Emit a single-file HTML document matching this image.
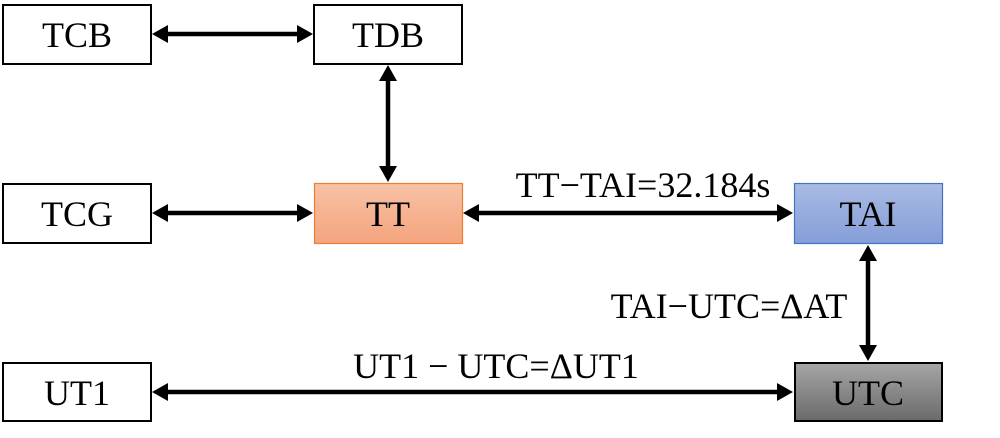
<!DOCTYPE html>
<html><head><meta charset="utf-8"><style>
html,body{margin:0;padding:0;background:#fff;}
</style></head><body>
<svg width="1000" height="438" xmlns="http://www.w3.org/2000/svg" style="display:block">
<defs>
<linearGradient id="go" x1="0" y1="0" x2="0" y2="1"><stop offset="0" stop-color="#f8c2a6"/><stop offset="1" stop-color="#f4a47e"/></linearGradient>
<linearGradient id="gb" x1="0" y1="0" x2="0" y2="1"><stop offset="0" stop-color="#aabbe4"/><stop offset="1" stop-color="#849ed8"/></linearGradient>
<linearGradient id="gg" x1="0" y1="0" x2="0" y2="1"><stop offset="0" stop-color="#a6a6a6"/><stop offset="1" stop-color="#6a6a6a"/></linearGradient>
</defs>
<g style="font-family:'Liberation Serif','Times New Roman',serif" font-size="36" text-anchor="middle">
<rect x="3" y="5" width="148" height="59" fill="#fff" stroke="#000" stroke-width="2"/>
<text x="77" y="47">TCB</text>
<rect x="314" y="5" width="148" height="59" fill="#fff" stroke="#000" stroke-width="2"/>
<text x="388" y="47">TDB</text>
<rect x="3" y="184" width="148" height="59" fill="#fff" stroke="#000" stroke-width="2"/>
<text x="77" y="226">TCG</text>
<rect x="314.5" y="183.5" width="148" height="60" fill="url(#go)" stroke="#ed7d31" stroke-width="1.2"/>
<text x="388" y="226">TT</text>
<rect x="794.5" y="183.5" width="148" height="60" fill="url(#gb)" stroke="#4472c4" stroke-width="1.2"/>
<text x="868" y="226">TAI</text>
<rect x="795" y="363" width="147" height="58" fill="url(#gg)" stroke="#000" stroke-width="2"/>
<text x="868" y="405">UTC</text>
<rect x="3" y="363" width="148" height="58" fill="#fff" stroke="#000" stroke-width="2"/>
<text x="77" y="405">UT1</text>
<text x="643" y="197">TT−TAI=32.184s</text>
<text x="729" y="318">TAI−UTC=ΔAT</text>
<text x="496" y="378">UT1 − UTC=ΔUT1</text>
</g>
<g stroke="#000" stroke-width="4.5">
<line x1="162" y1="34" x2="302" y2="34"/>
<line x1="162" y1="213" x2="302" y2="213"/>
<line x1="474" y1="213" x2="782" y2="213"/>
<line x1="162" y1="392" x2="782" y2="392"/>
<line x1="388" y1="76" x2="388" y2="171"/>
<line x1="868" y1="256" x2="868" y2="350"/>
</g>
<g fill="#000">
<polygon points="152,34 168,25 168,43"/><polygon points="313,34 297,25 297,43"/>
<polygon points="152,213 168,204 168,222"/><polygon points="313,213 297,204 297,222"/>
<polygon points="463,213 479,204 479,222"/><polygon points="793,213 777,204 777,222"/>
<polygon points="152,392 168,383 168,401"/><polygon points="793,392 777,383 777,401"/>
<polygon points="388,65 379,81 397,81"/><polygon points="388,182 379,166 397,166"/>
<polygon points="868,245 859,261 877,261"/><polygon points="868,361 859,345 877,345"/>
</g>
</svg>
</body></html>
